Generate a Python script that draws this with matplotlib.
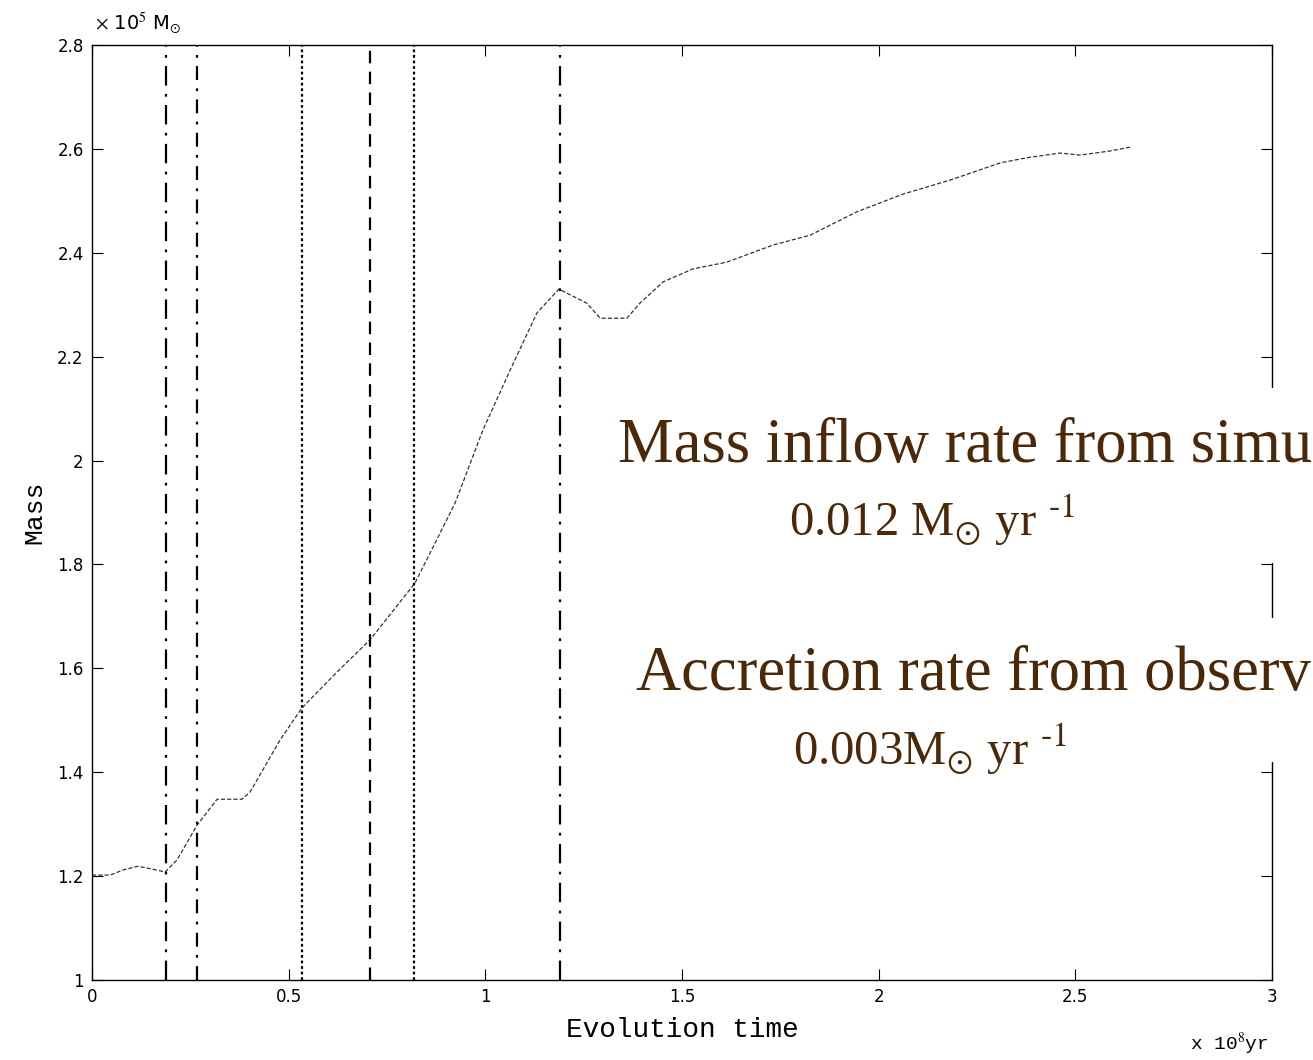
import matplotlib
matplotlib.use("Agg")
import matplotlib.pyplot as plt
from matplotlib.patches import Rectangle

plt.rcParams['mathtext.fontset'] = 'stix'
plt.rcParams['lines.scale_dashes'] = False

# mass curve (x in 1e8 yr, mass in 1e5 Msun)
time = [0.0, 0.046, 0.08, 0.117, 0.15, 0.186, 0.216, 0.267, 0.318, 0.381, 0.402,
        0.478, 0.534, 0.623, 0.707, 0.821, 0.923, 0.994, 1.063, 1.131, 1.187,
        1.258, 1.292, 1.36, 1.393, 1.452, 1.528, 1.614, 1.732, 1.826, 1.945,
        2.062, 2.182, 2.309, 2.377, 2.461, 2.512, 2.588, 2.644]
mass = [1.202, 1.202, 1.212, 1.219, 1.214, 1.208, 1.231, 1.298, 1.348, 1.348, 1.362,
        1.462, 1.524, 1.593, 1.655, 1.764, 1.918, 2.059, 2.174, 2.284, 2.330,
        2.303, 2.274, 2.274, 2.303, 2.344, 2.369, 2.382, 2.415, 2.434, 2.479,
        2.513, 2.540, 2.573, 2.583, 2.592, 2.588, 2.596, 2.604]

# vertical marker lines
vline_x = [0.188, 0.267, 0.534, 0.707, 0.819, 1.19]
vline_style = [(0, (14, 6, 2, 6)), (0, (10, 6, 2, 6)), (0, (2, 2)),
               (0, (9, 6)), (0, (2, 2)), (0, (14, 6, 2, 6))]

box_lines = ["Mass inflow rate from simulation",
             r"0.012 M$_{\odot}$ yr $^{\text{-1}}$",
             "Accretion rate from observation",
             r"0.003M$_{\odot}$ yr $^{\text{-1}}$"]

W, H = 1313, 1060
fig = plt.figure(figsize=(W / 100, H / 100), dpi=100)
ax = fig.add_axes([92 / W, 1 - 980 / H, (1272 - 92) / W, (980 - 45) / H])

ax.plot(time, mass, color='#333333', lw=0.9, ls=(0, (3, 1.5)))
for xv, st in zip(vline_x, vline_style):
    ax.axvline(xv, color='black', lw=1.6, ls=st)

ax.set_xlim(0, 3)
ax.set_ylim(1, 2.8)
ax.set_xticks([0, 0.5, 1, 1.5, 2, 2.5, 3])
ax.set_xticklabels(['0', '0.5', '1', '1.5', '2', '2.5', '3'])
ax.set_yticks([1, 1.2, 1.4, 1.6, 1.8, 2, 2.2, 2.4, 2.6, 2.8])
ax.set_yticklabels(['1', '1.2', '1.4', '1.6', '1.8', '2', '2.2', '2.4', '2.6', '2.8'])
ax.tick_params(direction='in', length=8, width=0.8, top=True, right=True,
               labelsize=12, pad=6)
for s in ax.spines.values():
    s.set_linewidth(1.0)

ax.set_xlabel("Evolution time", family='Liberation Mono', fontsize=20, labelpad=8)
ax.set_ylabel("Mass", family='Liberation Mono', fontsize=19, labelpad=8)

fig.text(95 / W, 1 - 30 / H, r"$\times$ 10$^{5}$ M$_{\odot}$", fontsize=14,
         va='baseline', ha='left')
fig.text(1190 / W, 1 - 1050 / H, r"x 10$^{8}$yr", fontsize=14,
         va='baseline', ha='left', family='Liberation Mono')

# white boxes with text
for y0, y1 in [(388, 563), (618, 762)]:
    fig.add_artist(Rectangle((605 / W, 1 - y1 / H), 1 - 605 / W, (y1 - y0) / H,
                             transform=fig.transFigure, facecolor='white',
                             edgecolor='none', zorder=5))

brown = '#4a2808'
txt = dict(family='Liberation Serif', color=brown, zorder=6, va='baseline')
fig.text(618 / W, 1 - 462 / H, box_lines[0], ha='left', fontsize=45, **txt)
fig.text(932 / W, 1 - 536 / H, box_lines[1], ha='center', fontsize=35, **txt)
fig.text(636 / W, 1 - 690 / H, box_lines[2], ha='left', fontsize=45, **txt)
fig.text(930 / W, 1 - 765 / H, box_lines[3], ha='center', fontsize=35, **txt)

fig.savefig("out.png", dpi=100)
